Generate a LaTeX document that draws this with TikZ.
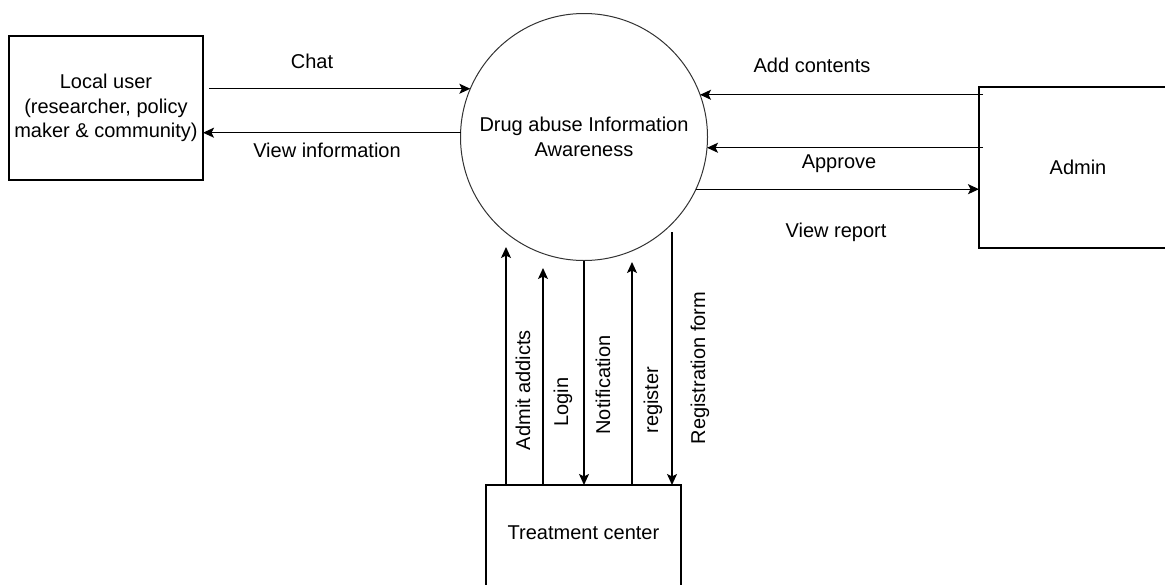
\documentclass[tikz,border=0pt]{standalone}
\usepackage{fontspec}
\setmainfont{Liberation Sans}
\usetikzlibrary{arrows.meta}
\begin{document}
\begin{tikzpicture}[x=1pt,y=-1pt,
  font=\fontsize{20}{24.5}\selectfont,
  box/.style={draw,line width=1.3pt,inner sep=0pt,outer sep=0pt,align=center},
  flow/.style={line width=1.3pt,-{Stealth[length=11pt,width=10pt,inset=2.5pt]}}]
\useasboundingbox (0,0) rectangle (1165,584);
\clip (0,0) rectangle (1165,584);
\node[box,minimum width=194,minimum height=144] (user) at (106,108) {Local user\\(researcher, policy\\maker \& community)};
\node[box,minimum width=198,minimum height=161] (admin) at (1078,167.5) {Admin};
\node[box,minimum width=195,minimum height=120,text depth=24.5pt] (tc) at (583.5,545) {Treatment center};
\node[draw,circle,line width=1pt,draw=black!80,minimum size=247,inner sep=0pt,outer sep=0pt,align=center] (dfd) at (584,137) {Drug abuse Information\\Awareness};
\coordinate (admit) at (506,247);
\coordinate (login) at (543,268);
\coordinate (reg) at (632,262);
\coordinate (regform) at (672,232);
\draw[flow,shorten <=6pt] (user.east |- dfd.157) -- (dfd.157);
\draw[flow] (dfd.178) -- (dfd.178 -| user.east);
\draw[flow,shorten <=-4pt] (admin.west |- dfd.20) -- (dfd.20);
\draw[flow,shorten <=-4pt] (admin.west |- dfd.-5) -- (dfd.-5);
\draw[flow] (dfd.-25) -- (dfd.-25 -| admin.west);
\draw[flow] (tc.north -| admit) -- (admit);
\draw[flow] (tc.north -| login) -- (login);
\draw[flow] (dfd.south) -- (dfd.south |- tc.north);
\draw[flow] (tc.north -| reg) -- (reg);
\draw[flow] (regform) -- (regform |- tc.north);
\node (chatl) at (312,61) {Chat};
\node (viewl) at (327,150) {View information};
\node (addl) at (812,65) {Add contents};
\node (apprl) at (839,164) {Approve};
\node (repl) at (836,232) {View report};
\node[rotate=90] (admitl) at (523,390) {Admit addicts};
\node[rotate=90] (loginl) at (563,402) {Login};
\node[rotate=90] (notel) at (603,385) {Notification};
\node[rotate=90] (regl) at (653,400) {register};
\node[rotate=90] (regforml) at (700,368) {Registration form};
\end{tikzpicture}
\end{document}
